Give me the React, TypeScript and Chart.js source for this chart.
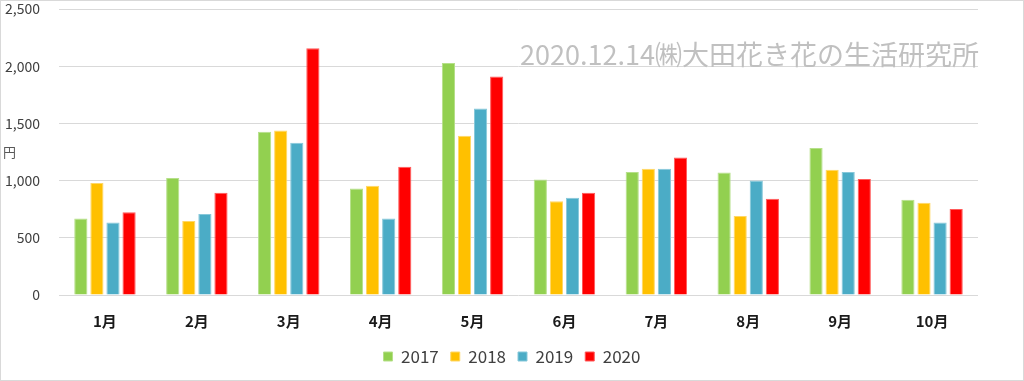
import React, { useEffect, useRef } from "react";
import { Chart, registerables } from "chart.js";

Chart.register(...registerables);

const months = ["1月", "2月", "3月", "4月", "5月", "6月", "7月", "8月", "9月", "10月"];
const v2017 = [668, 1022, 1428, 932, 2027, 1009, 1076, 1070, 1286, 833];
const v2018 = [978, 647, 1437, 955, 1391, 819, 1103, 691, 1095, 807];
const v2019 = [633, 708, 1330, 668, 1631, 851, 1103, 1000, 1076, 633];
const v2020 = [723, 894, 2157, 1121, 1910, 894, 1202, 842, 1015, 752];
const seriesNames = ["2017", "2018", "2019", "2020"];
const colors = ["#92d050", "#ffc000", "#4bacc6", "#ff0000"];
const borderColors = ["#b6e08a", "#ffd766", "#87c8da", "#ff5a5a"];
const watermark = "2020.12.14㈱大田花き花の生活研究所";
const unitLabel = "円";

const FONT = "'Noto Sans CJK JP', 'Noto Sans', sans-serif";

const overlayPlugin = {
  id: "overlayText",
  afterDraw(chart: any) {
    const ctx = chart.ctx;
    const y = chart.scales.y;
    ctx.save();
    ctx.font = `27px ${FONT}`;
    ctx.fillStyle = "#c0c0c0";
    ctx.textAlign = "left";
    ctx.textBaseline = "alphabetic";
    ctx.fillText(watermark, 519, 64);
    ctx.font = `13px ${FONT}`;
    ctx.fillStyle = "#595959";
    ctx.textBaseline = "middle";
    ctx.fillText(unitLabel, 2, y.getPixelForValue(1250));
    ctx.restore();
  },
};

const zeroPad = (s: any) => {
  s.paddingTop = 0;
  s.paddingBottom = 0;
};

export default function App() {
  const ref = useRef<HTMLCanvasElement>(null);
  useEffect(() => {
    document.body.style.margin = "0";
    const data = [v2017, v2018, v2019, v2020];
    const chart = new Chart(ref.current!, {
      type: "bar",
      data: {
        labels: months,
        datasets: seriesNames.map((n, i) => ({
          label: n,
          data: data[i],
          backgroundColor: colors[i],
          borderColor: borderColors[i],
          borderWidth: 1,
          categoryPercentage: 0.7,
          barPercentage: 0.82,
        })),
      },
      options: {
        responsive: false,
        animation: false,
        layout: { padding: { top: 8, left: 0, right: 0, bottom: 5 } },
        plugins: {
          legend: {
            position: "bottom",
            labels: {
              boxWidth: 9,
              boxHeight: 9,
              padding: 12,
              color: "#404040",
              font: { family: FONT, size: 17 },
            },
          },
          tooltip: { enabled: false },
        },
        scales: {
          x: {
            grid: { display: false },
            border: { display: false },
            ticks: {
              color: "#1a1a1a",
              padding: 9,
              font: { family: FONT, size: 15, weight: "bold" },
            },
            afterFit: (s: any) => {
              s.height = 41;
            },
          },
          y: {
            min: 0,
            max: 2500,
            ticks: {
              stepSize: 500,
              padding: 19,
              color: "#404040",
              font: { family: FONT, size: 14 },
              callback: (v: any) => Number(v).toLocaleString("en-US"),
            },
            grid: { color: "#d9d9d9", drawTicks: false, lineWidth: 1 },
            border: { display: false },
            afterFit: (s: any) => {
              s.width = 58;
              zeroPad(s);
            },
          },
          y2: {
            position: "right",
            display: true,
            grid: { display: false },
            border: { display: false },
            ticks: { display: false },
            afterFit: (s: any) => {
              s.width = 45;
              zeroPad(s);
            },
          },
        },
      },
      plugins: [overlayPlugin],
    });
    return () => chart.destroy();
  }, []);
  return (
    <div
      style={{
        position: "absolute",
        left: 0,
        top: 0,
        width: 1024,
        height: 381,
        border: "1px solid #d9d9d9",
        boxSizing: "border-box",
        background: "#fff",
      }}
    >
      <canvas ref={ref} width={1022} height={379} style={{ display: "block" }} />
    </div>
  );
}
